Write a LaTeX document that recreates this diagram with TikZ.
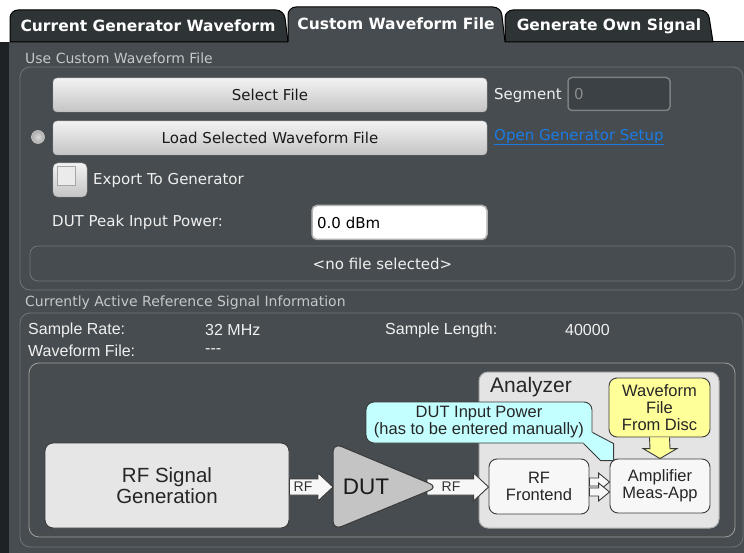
\documentclass[tikz,border=0pt]{standalone}
\usepackage{fontspec}
\setmainfont{DejaVu Sans}
\newfontfamily\arialf{Liberation Sans}
\usetikzlibrary{calc}
\definecolor{panelbg}{HTML}{464C4F}
\definecolor{tabdark}{HTML}{2E3336}
\definecolor{stripdark}{HTML}{1E2225}
\definecolor{frameline}{HTML}{6E7477}
\definecolor{grouplabel}{HTML}{C4C8CA}
\definecolor{guiwhite}{HTML}{F0F0F0}
\definecolor{linkblue}{HTML}{1C7BE3}
\definecolor{boxline}{HTML}{3A3A3A}
\definecolor{genfill}{HTML}{E6E6E6}
\definecolor{dutfill}{HTML}{C4C4C4}
\definecolor{anafill}{HTML}{E4E4E4}
\definecolor{yellowfill}{HTML}{FFFF99}
\definecolor{cyanfill}{HTML}{C4FFFF}
\definecolor{segfill}{HTML}{3B4144}
\definecolor{segline}{HTML}{7B8083}
\newcommand\harrow[6][]{%
  \draw[#1] ($(#2)+(0,-#4)$) -- ($(#3)+(-#6,-#4)$) -- ($(#3)+(-#6,-#5)$) -- (#3)
    -- ($(#3)+(-#6,#5)$) -- ($(#3)+(-#6,#4)$) -- ($(#2)+(0,#4)$) -- cycle;}
\begin{document}
\begin{tikzpicture}[x=1pt,y=-1pt,
  tabtext/.style={font=\fontsize{15.5}{18}\selectfont\bfseries, text=white, inner sep=0pt},
  guitext/.style={font=\fontsize{15}{18}\selectfont, text=guiwhite, inner sep=0pt, anchor=west},
  grouplbl/.style={font=\fontsize{14}{16}\selectfont, text=grouplabel, inner sep=0pt, anchor=west},
  groupframe/.style={draw=frameline, rounded corners=10pt, line width=0.8pt},
  button/.style={draw=gray!70, rounded corners=4pt, top color=white!95!black, bottom color=white!77!black,
     font=\fontsize{15}{18}\selectfont, text=black!90, inner sep=0pt},
  infotext/.style={font=\arialf\fontsize{16}{18}\selectfont, text=guiwhite, inner sep=0pt, anchor=west},
  dbox/.style={draw=boxline, line width=0.9pt, rounded corners=8pt, align=center, inner sep=0pt,
     font=\arialf\fontsize{16.5}{17}\selectfont, text=black!85},
  arrowline/.style={draw=boxline, line width=0.9pt, fill=white!97!black, line join=miter},
  rftext/.style={font=\arialf\fontsize{14}{16}\selectfont, text=black!80, inner sep=0pt}
]
\useasboundingbox (0,0) rectangle (744,553);
% background
\fill[white] (0,0) rectangle (744,553);
\fill[panelbg] (0,42) rectangle (744,553);
\fill[stripdark] (0,42) rectangle (9,553);
% tabs
\draw[black, line width=1pt, fill=tabdark] (10,42) [rounded corners=8pt] -- (10,10) -- (284,10) [sharp corners] -- (288,42) -- cycle;
\draw[black, line width=1pt, fill=tabdark] (505,42) [rounded corners=8pt] -- (505,10) -- (708,10) [sharp corners] -- (713,42) -- cycle;
\fill[panelbg] (288,43) [rounded corners=8pt] -- (288,7) -- (501,7) [sharp corners] -- (505,43) -- cycle;
\draw[black, line width=1pt] (288,42) [rounded corners=8pt] -- (288,7) -- (501,7) [sharp corners] -- (505,42);
\draw[black, line width=1pt] (713,42) -- (744,42);
\node[tabtext] (tab1) at (148,26) {Current Generator Waveform};
\node[tabtext] (tab2) at (396,24) {Custom Waveform File};
\node[tabtext] (tab3) at (609,26) {Generate Own Signal};
% group 1
\node[grouplbl] (g1) at (25,58) {Use Custom Waveform File};
\draw[groupframe] (20,67) rectangle (743,290);
\node[button, minimum width=434pt, minimum height=34pt] (sel) at (270,95) {Select File};
\node[guitext] (segl) at (494,95) {Segment};
\node[draw=segline, line width=1.5pt, fill=segfill, rounded corners=4pt, minimum width=102pt, minimum height=33pt,
  text width=90pt, align=left, inner sep=0pt, font=\fontsize{15}{18}\selectfont, text=gray!90] (seg) at (619,94) {0};
\node[circle, minimum size=13pt, inner sep=0pt, inner color=gray!30, outer color=gray!65, draw=gray!45, line width=0.6pt] (radio) at (38,137) {};
\node[button, minimum width=434pt, minimum height=34pt] (load) at (270,138) {Load Selected Waveform File};
\node[guitext, text=linkblue] (link) at (494,137) {\underline{Open Generator Setup}};
\node[button, minimum width=34pt, minimum height=34pt, rounded corners=5pt] (chk) at (70,180) {};
\node[draw=gray!70, fill=white!92!black, minimum width=18pt, minimum height=19pt, inner sep=0pt] (chkin) at (66,175.5) {};
\node[guitext] (exp) at (93,180) {Export To Generator};
\node[guitext] (dutp) at (52,222) {DUT Peak Input Power:};
\node[draw=gray!60, line width=1.5pt, fill=white, rounded corners=5pt, minimum width=175pt, minimum height=34pt,
  text width=165pt, align=left, inner sep=0pt, font=\fontsize{15}{18}\selectfont, text=black] (pwr) at (399.5,222.5) {0.0 dBm};
\node[draw=frameline, line width=0.8pt, rounded corners=8pt, minimum width=705pt, minimum height=35pt,
  font=\fontsize{15}{18}\selectfont, text=guiwhite, inner sep=0pt] (nofile) at (382.5,263.5) {\textless no file selected\textgreater};
% group 2
\node[grouplbl] (g2) at (25,303) {Currently Active Reference Signal Information};
\draw[groupframe] (20,313) rectangle (743,547);
\node[infotext] (srl) at (28,330) {Sample Rate:};
\node[infotext] (srv) at (205,330) {32 MHz};
\node[infotext] (sll) at (385,330) {Sample Length:};
\node[infotext] (slv) at (565,330) {40000};
\node[infotext] (wfl) at (28,351) {Waveform File:};
\node[infotext] (wfv) at (205,351) {---};
% diagram frame
\draw[draw=black!70, rounded corners=10pt, line width=1pt] (31,365) rectangle (733,535);
\draw[draw=gray!75, rounded corners=10pt, line width=0.8pt] (29,363) rectangle (735,537);
% diagram
\node[dbox, fill=genfill, minimum width=244pt, minimum height=85pt, font=\arialf\fontsize{20.5}{21}\selectfont] (gen) at (167,485.5) {RF Signal\\Generation};
\node[draw=gray!65, line width=1pt, fill=anafill, rounded corners=9pt, minimum width=240pt, minimum height=156pt, inner sep=0pt] (ana) at (599,450) {};
\node[font=\arialf\fontsize{21}{22}\selectfont, text=black!85, inner sep=0pt, anchor=west] (anal) at (490,387) {Analyzer};
\node[dbox, fill=yellowfill, minimum width=101pt, minimum height=59pt] (wf) at (659.5,407.5) {Waveform\\File\\From Disc};
\node[dbox, fill=white!97!black, minimum width=100pt, minimum height=55pt] (fe) at (539,486.5) {RF\\Frontend};
\node[dbox, fill=white!97!black, minimum width=100pt, minimum height=54pt] (amp) at (660,486) {Amplifier\\Meas-App};
\coordinate (dutin) at (333,487);
\coordinate (dutout) at (427,487);
\coordinate (a1s) at (gen.east |- dutin);
\coordinate (a2e) at (fe.west |- dutin);
% RF arrow 2 (behind DUT)
\harrow[arrowline]{dutout}{a2e}{8}{14}{15}
\node[rftext] (rf2) at (451,487) {RF};
% DUT
\draw[draw=boxline, line width=1pt, fill=dutfill, rounded corners=9pt] (333,443) -- (438,487) -- (333,530) -- cycle;
\node[font=\arialf\fontsize{22.5}{24}\selectfont, text=black!90, inner sep=0pt] (dut) at (366,487) {DUT};
% RF arrow 1
\harrow[arrowline]{a1s}{dutin}{8}{14}{15}
\node[rftext] (rf1) at (303,487) {RF};
% double arrows frontend -> amp
\coordinate (d1s) at ($(fe.east)+(0,-4.5)$);
\coordinate (d1e) at (amp.west |- d1s);
\coordinate (d2s) at ($(fe.east)+(0,5.5)$);
\coordinate (d2e) at (amp.west |- d2s);
\harrow[arrowline]{d1s}{d1e}{4}{9}{11}
\harrow[arrowline]{d2s}{d2e}{4}{9}{11}
% yellow arrow
\draw[draw=boxline, line width=0.9pt, fill=yellowfill] ($(wf.south)+(-10,0)$) -- ($(amp.north)+(-10,-10)$) -- ($(amp.north)+(-17,-10)$) -- (amp.north)
  -- ($(amp.north)+(17,-10)$) -- ($(amp.north)+(10,-10)$) -- ($(wf.south)+(10,0)$);
% callout
\node[dbox, fill=cyanfill, minimum width=226pt, minimum height=41pt] (call) at (479,422.5) {DUT Input Power\\(has to be entered manually)};
\fill[cyanfill] ($(call.south east)+(-9,0.5)$) -- ($(amp.north west)+(-9,2)$) -- ($(amp.north west)+(4,2)$) -- ($(amp.north west)+(4,-15)$)
  -- ($(call.south east)+(0.5,-11)$) -- ($(call.south east)+(-9,-11)$) -- cycle;
\draw[draw=boxline, line width=0.9pt] ($(call.south east)+(-9,0)$) -- ($(amp.north west)+(-9,2)$) -- ($(amp.north west)+(4,2)$) -- ($(amp.north west)+(4,-15)$)
  -- ($(call.south east)+(0,-11)$);
\end{tikzpicture}
\end{document}
